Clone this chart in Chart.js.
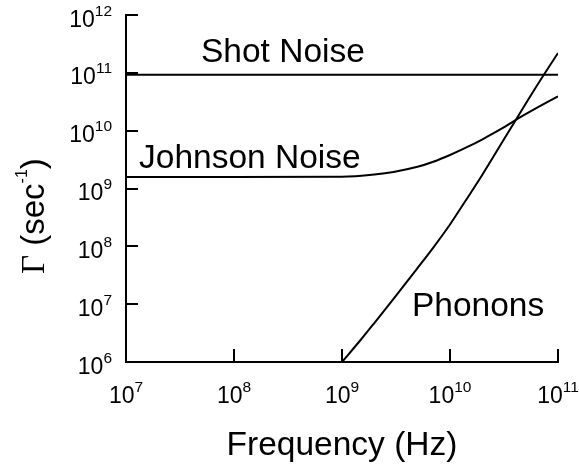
<!DOCTYPE html>
<html>
<head>
<meta charset="utf-8">
<script src="https://cdn.jsdelivr.net/npm/chart.js@4.4.1/dist/chart.umd.min.js"></script>
<style>
  html, body { margin: 0; padding: 0; background: #fff; }
  #wrap { width: 579px; height: 469px; position: relative; }
</style>
</head>
<body>
<div id="wrap"><canvas id="c" width="579" height="469"></canvas></div>
<script>
// ---- data ----
const shotFreq = [1e7, 1e11];
const shotRate = [9.3e10, 9.3e10];

const johnsonFreq = [1e7, 1e8, 1e9, 2e9, 3e9, 5e9, 7e9, 1e10, 1.5e10, 2e10, 3e10, 4e10, 6e10, 1e11];
const johnsonRate = [1.58e9, 1.58e9, 1.6e9, 1.75e9, 1.93e9, 2.37e9, 2.9e9, 3.8e9, 5.4e9, 7.1e9, 1.08e10, 1.51e10, 2.33e10, 3.92e10];

const phononFreq = [1e9, 1.5e9, 2e9, 3e9, 5e9, 7e9, 1e10, 1.5e10, 2e10, 3e10, 4e10, 6e10, 1e11];
const phononRate = [1e6, 2.45e6, 4.77e6, 1.24e7, 4.21e7, 9.53e7, 2.39e8, 7.59e8, 1.75e9, 6.05e9, 1.46e10, 5.01e10, 2.21e11];

const xTickExps = [7, 8, 9, 10, 11];
const yTickExps = [6, 7, 8, 9, 10, 11, 12];

const seriesLabels = ['Shot Noise', 'Johnson Noise', 'Phonons'];
const xTitle = 'Frequency (Hz)';

function pts(xs, ys) { return xs.map((v, i) => ({ x: v, y: ys[i] })); }

const SANS = '"Liberation Sans", Arial, Helvetica, sans-serif';
const SERIF = '"Liberation Serif", "Times New Roman", serif';

const drawPlugin = {
  id: 'drawExtras',
  afterDraw(chart) {
    const { ctx, chartArea: a, scales: { x, y } } = chart;
    ctx.save();
    ctx.fillStyle = '#000';
    ctx.strokeStyle = '#000';
    ctx.lineWidth = 2;
    // inward tick marks
    xTickExps.forEach(e => {
      const px = Math.round(x.getPixelForValue(Math.pow(10, e)));
      ctx.beginPath(); ctx.moveTo(px, a.bottom); ctx.lineTo(px, a.bottom - 13); ctx.stroke();
    });
    yTickExps.forEach(e => {
      const py = Math.round(y.getPixelForValue(Math.pow(10, e)));
      ctx.beginPath(); ctx.moveTo(a.left, py); ctx.lineTo(a.left + 12, py); ctx.stroke();
    });
    // tick labels
    ctx.textBaseline = 'alphabetic';
    ctx.textAlign = 'left';
    const baseFont = '23px ' + SANS, supFont = '15.5px ' + SANS;
    xTickExps.forEach(e => {
      const px = x.getPixelForValue(Math.pow(10, e));
      ctx.font = baseFont; const w1 = ctx.measureText('10').width;
      ctx.font = supFont; const w2 = ctx.measureText(String(e)).width;
      const sx = px - (w1 + w2) / 2;
      ctx.font = baseFont; ctx.fillText('10', sx, 403);
      ctx.font = supFont; ctx.fillText(String(e), sx + w1, 392);
    });
    yTickExps.forEach(e => {
      const py = y.getPixelForValue(Math.pow(10, e));
      ctx.font = baseFont; const w1 = ctx.measureText('10').width;
      ctx.font = supFont; const w2 = ctx.measureText(String(e)).width;
      const sx = 112 - (w1 + w2);
      ctx.font = baseFont; ctx.fillText('10', sx, py + 11.5);
      ctx.font = supFont; ctx.fillText(String(e), sx + w1, py + 0.5);
    });
    // series labels
    ctx.font = '33.5px ' + SANS;
    ctx.fillText(seriesLabels[0], 201, 62);
    ctx.fillText(seriesLabels[1], 139, 168);
    ctx.fillText(seriesLabels[2], 412, 316);
    // x title
    ctx.font = '33.5px ' + SANS;
    ctx.textAlign = 'center';
    ctx.fillText(xTitle, (a.left + a.right) / 2, 455);
    // y title (rotated)
    ctx.save();
    ctx.translate(43.5, 274);
    ctx.rotate(-Math.PI / 2);
    ctx.textAlign = 'left';
    let cx = 0;
    ctx.font = '33px ' + SERIF; ctx.fillText('\u0393', cx, 0); cx += ctx.measureText('\u0393').width;
    ctx.font = '33px ' + SANS; ctx.fillText(' (sec', cx, 0); cx += ctx.measureText(' (sec').width;
    ctx.font = '16px ' + SANS; ctx.fillText('-1', cx, -17); cx += ctx.measureText('-1').width;
    ctx.font = '33px ' + SANS; ctx.fillText(')', cx, 0);
    ctx.restore();
    ctx.restore();
  }
};

const lineStyle = { borderColor: '#000', borderWidth: 2, pointRadius: 0, fill: false, cubicInterpolationMode: 'monotone' };

new Chart(document.getElementById('c'), {
  type: 'line',
  data: {
    datasets: [
      Object.assign({ label: seriesLabels[0], data: pts(shotFreq, shotRate) }, lineStyle),
      Object.assign({ label: seriesLabels[1], data: pts(johnsonFreq, johnsonRate) }, lineStyle),
      Object.assign({ label: seriesLabels[2], data: pts(phononFreq, phononRate) }, lineStyle)
    ]
  },
  options: {
    responsive: false,
    animation: false,
    events: [],
    layout: { padding: { left: 126, top: 15, right: 21, bottom: 107 } },
    plugins: { legend: { display: false }, tooltip: { enabled: false } },
    scales: {
      x: {
        type: 'logarithmic', min: 1e7, max: 1e11,
        grid: { display: false, drawTicks: false },
        border: { display: true, color: '#000', width: 2 },
        ticks: { display: false }
      },
      y: {
        type: 'logarithmic', min: 1e6, max: 1e12,
        grid: { display: false, drawTicks: false },
        border: { display: true, color: '#000', width: 2 },
        ticks: { display: false }
      }
    }
  },
  plugins: [drawPlugin]
});
</script>
</body>
</html>
